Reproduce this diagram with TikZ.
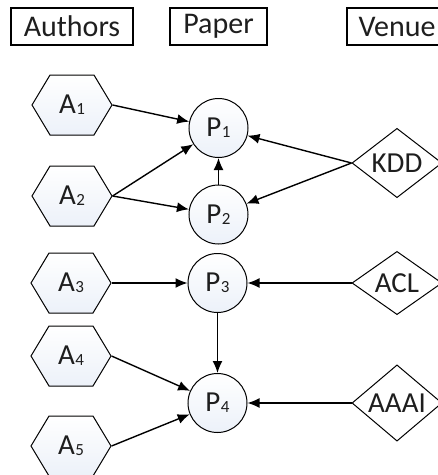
\documentclass[tikz,border=0pt]{standalone}
\usepackage{fontspec}
\setmainfont{Carlito}
\usetikzlibrary{shapes.geometric,shapes.symbols,arrows.meta}
\definecolor{txt}{RGB}{30,30,30}
\definecolor{shadeblue}{RGB}{236,241,249}
\tikzset{
  hdr/.style={draw, line width=1.1pt, minimum height=37pt, inner sep=0pt, font=\fontsize{30}{30}\selectfont, text=txt},
  authorbox/.style={shape=signal, signal to=west and east, signal pointer angle=118, draw, line width=1pt,
    minimum width=80pt, minimum height=60pt, inner sep=0pt, top color=white, bottom color=shadeblue,
    font=\fontsize{29}{29}\selectfont, text=txt},
  paperbox/.style={circle, draw, line width=1pt, minimum size=59pt, inner sep=0pt,
    top color=white, bottom color=shadeblue, font=\fontsize{29}{29}\selectfont, text=txt},
  venuebox/.style={diamond, draw, line width=1pt, minimum width=90pt, minimum height=60pt, inner sep=0pt,
    fill=white, font=\fontsize{29}{29}\selectfont, text=txt},
  link/.style={line width=1.4pt, -{Latex[length=12pt,width=10pt]}},
}
\newcommand{\lab}[2]{#1\kern0.5pt\raisebox{-1pt}{\fontsize{17}{17}\selectfont #2}}
\begin{document}
\begin{tikzpicture}[x=1pt,y=-1pt]
\useasboundingbox (0,0) rectangle (438,475);
\begin{scope}
\clip (0,0) rectangle (438,475);
\node[hdr, minimum width=122pt] (hA) at (72,26.5) {Authors};
\node[hdr, minimum width=97pt] (hP) at (218.5,26.5) {Paper};
\node[hdr, minimum width=100pt] (hV) at (397,26.5) {Venue};

\node[authorbox] (A1) at (72,105) {\lab{A}{1}};
\node[authorbox] (A2) at (72,196) {\lab{A}{2}};
\node[authorbox] (A3) at (71,283) {\lab{A}{3}};
\node[authorbox] (A4) at (71,356) {\lab{A}{4}};
\node[authorbox] (A5) at (71,446) {\lab{A}{5}};

\node[paperbox] (P1) at (218.5,128) {\lab{P}{1}};
\node[paperbox] (P2) at (218.5,214.5) {\lab{P}{2}};
\node[paperbox] (P3) at (217.5,283) {\lab{P}{3}};
\node[paperbox] (P4) at (217.5,403) {\lab{P}{4}};

\node[venuebox] (V1) at (397,163) {KDD};
\node[venuebox] (V2) at (397,283) {ACL};
\node[venuebox] (V3) at (397,403) {AAAI};

\draw[link] (A1.east) -- (P1);
\draw[link] (A2.east) -- (P1);
\draw[link] (A2.east) -- (P2);
\draw[link] (P2) -- (P1);
\draw[link] (V1.west) -- (P1);
\draw[link] (V1.west) -- (P2);
\draw[link] (A3.east) -- (P3);
\draw[link] (V2.west) -- (P3);
\draw[link] (P3) -- (P4);
\draw[link] (A4.east) -- (P4);
\draw[link] (A5.east) -- (P4);
\draw[link] (V3.west) -- (P4);
\end{scope}
\end{tikzpicture}
\end{document}
